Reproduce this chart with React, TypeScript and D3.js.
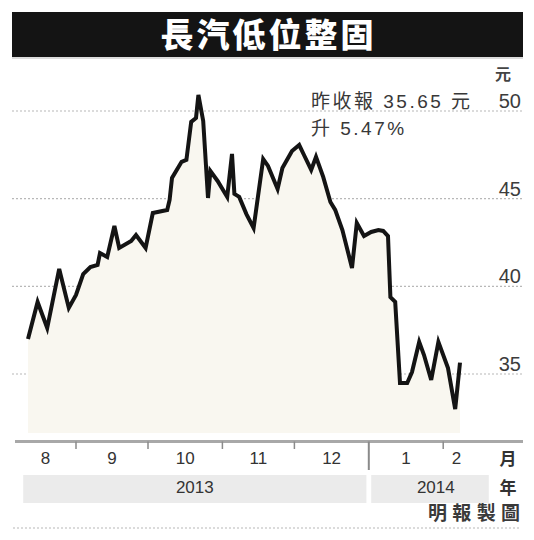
import React, { useEffect, useRef } from 'react';
import * as d3 from 'd3';

// 長汽 收市價 (元), 2013-08 ~ 2014-02
const dates = [
    '2013-08-12', '2013-08-16', '2013-08-20', '2013-08-25', '2013-08-29',
    '2013-09-01', '2013-09-04', '2013-09-07', '2013-09-10', '2013-09-11',
    '2013-09-14', '2013-09-17', '2013-09-19', '2013-09-24', '2013-09-26',
    '2013-09-30', '2013-10-03', '2013-10-09', '2013-10-10', '2013-10-11',
    '2013-10-15', '2013-10-17', '2013-10-19', '2013-10-21', '2013-10-22',
    '2013-10-24', '2013-10-26', '2013-10-27', '2013-10-30', '2013-11-03',
    '2013-11-05', '2013-11-06', '2013-11-08', '2013-11-11', '2013-11-14',
    '2013-11-18', '2013-11-20', '2013-11-24', '2013-11-26', '2013-11-30',
    '2013-12-03', '2013-12-05', '2013-12-08', '2013-12-10', '2013-12-13',
    '2013-12-16', '2013-12-18', '2013-12-21', '2013-12-25', '2013-12-27',
    '2013-12-30', '2014-01-02', '2014-01-05', '2014-01-07', '2014-01-09',
    '2014-01-10', '2014-01-12', '2014-01-14', '2014-01-17', '2014-01-19',
    '2014-01-22', '2014-01-24', '2014-01-27', '2014-01-30', '2014-02-03',
    '2014-02-06', '2014-02-08',
];
const prices = [
    37.0, 39.11, 37.62, 40.99, 38.77,
    39.51, 40.7, 41.1, 41.22, 41.9,
    41.67, 43.44, 42.19, 42.59, 42.93,
    42.19, 44.18, 44.35, 44.93, 46.18,
    47.1, 47.21, 49.38, 49.6, 50.92,
    49.43, 45.04, 46.58, 46.01, 45.1,
    47.55, 45.27, 45.1, 44.12, 43.33,
    47.26, 46.87, 45.55, 46.75, 47.72,
    48.06, 47.49, 46.64, 47.38, 46.24,
    44.81, 44.36, 43.21, 41.05, 43.61,
    42.87, 43.1, 43.21, 43.16, 42.87,
    39.39, 39.11, 34.49, 34.49, 35.11,
    36.83, 36.08, 34.66, 36.83, 35.34,
    33.0, 35.65,
];

const yTicks = [35, 40, 45, 50];
const monthStarts = ['2013-08-01', '2013-09-01', '2013-10-01', '2013-11-01', '2013-12-01', '2014-01-01', '2014-02-01', '2014-03-01'];
const monthLabels = ['8', '9', '10', '11', '12', '1', '2'];
const yearLabels = ['2013', '2014'];
const yearSpans = [['2013-08-10', '2013-12-31'], ['2014-01-02', '2014-02-20']];

const title = '長汽低位整固';
const noteLines = ['昨收報 35.65 元', '升 5.47%'];

const FONT = '"Liberation Sans", "Noto Sans CJK TC", sans-serif';
const CJK = '"Noto Sans CJK TC", "Liberation Sans", sans-serif';

const parse = (s: string) => new Date(s + 'T00:00:00Z');

const App = () => {
    const svgRef = useRef(null);

    useEffect(() => {
        const svg = d3.select(svgRef.current);
        svg.selectAll('*').remove();

        const width = 534;
        const plotLeft = 12, plotRight = 523;
        const axisY = 441.5;
        const floorY = 433;

        const x = d3.scaleUtc()
            .domain([parse('2013-08-01'), parse('2014-03-01')])
            .range([1.6, 510.4]);
        const y = d3.scaleLinear().domain([35, 50]).range([374, 111]);

        const data = dates.map((d, i) => ({ date: parse(d), value: prices[i] }));

        // 標題
        svg.append('rect')
            .attr('x', 12).attr('y', 12).attr('width', 511).attr('height', 45)
            .attr('fill', '#141414');
        svg.append('line')
            .attr('x1', 12).attr('x2', 523).attr('y1', 58).attr('y2', 58)
            .attr('stroke', '#d0d0d0').attr('stroke-width', 1.5);
        svg.append('text')
            .attr('x', width / 2).attr('y', 47)
            .attr('text-anchor', 'middle')
            .attr('font-family', CJK).attr('font-weight', 900).attr('font-size', 33)
            .attr('textLength', 213).attr('lengthAdjust', 'spacing')
            .attr('fill', '#fff')
            .text(title);

        // 網格線
        svg.append('g').selectAll('line').data(yTicks).join('line')
            .attr('x1', plotLeft).attr('x2', plotRight)
            .attr('y1', d => y(d)).attr('y2', d => y(d))
            .attr('stroke', '#b8b8b8').attr('stroke-width', 1.2)
            .attr('stroke-dasharray', '2,2');

        // 面積 + 線
        const area = d3.area<{ date: Date; value: number }>()
            .x(d => x(d.date)).y0(floorY).y1(d => y(d.value));
        svg.append('path').datum(data).attr('d', area).attr('fill', '#f9f7f0');

        const line = d3.line<{ date: Date; value: number }>()
            .x(d => x(d.date)).y(d => y(d.value));
        svg.append('path').datum(data).attr('d', line)
            .attr('fill', 'none').attr('stroke', '#141414')
            .attr('stroke-width', 4).attr('stroke-linejoin', 'miter');

        // y 軸標籤
        svg.append('g').selectAll('text').data(yTicks).join('text')
            .attr('x', 521).attr('y', d => y(d) - 3)
            .attr('text-anchor', 'end')
            .attr('font-family', FONT).attr('font-size', 20).attr('fill', '#3c3c3c')
            .text(d => d);
        svg.append('text')
            .attr('x', 503).attr('y', 80).attr('text-anchor', 'middle')
            .attr('font-family', CJK).attr('font-weight', 700).attr('font-size', 16).attr('fill', '#444')
            .text('元');

        // 註
        noteLines.forEach((t, i) => {
            svg.append('text')
                .attr('x', 311).attr('y', 108 + i * 27)
                .attr('font-family', FONT).attr('font-size', 19).attr('fill', '#383838')
                .attr('letter-spacing', 2.5)
                .text(t);
        });

        // x 軸
        svg.append('line')
            .attr('x1', 15).attr('x2', plotRight).attr('y1', axisY).attr('y2', axisY)
            .attr('stroke', '#a8a8a8').attr('stroke-width', 3);

        const starts = monthStarts.map(parse);
        svg.append('g').selectAll('line').data(starts.slice(1, 7)).join('line')
            .attr('x1', d => x(d)).attr('x2', d => x(d))
            .attr('y1', axisY)
            .attr('y2', d => (d.getUTCMonth() === 0 ? 470 : 449))
            .attr('stroke', '#8a8a8a')
            .attr('stroke-width', d => (d.getUTCMonth() === 0 ? 2 : 1.5));

        const lastX = x(parse('2014-02-12'));
        svg.append('g').selectAll('text').data(monthLabels).join('text')
            .attr('x', (d, i) => {
                const a = Math.max(15, x(starts[i]));
                const b = Math.min(lastX, x(starts[i + 1]));
                return (a + b) / 2;
            })
            .attr('y', 464)
            .attr('text-anchor', 'middle')
            .attr('font-family', FONT).attr('font-size', 17).attr('fill', '#333')
            .text(d => d);
        svg.append('text')
            .attr('x', 508).attr('y', 465).attr('text-anchor', 'middle')
            .attr('font-family', CJK).attr('font-weight', 700).attr('font-size', 17).attr('fill', '#333')
            .text('月');

        // 年份
        const years = svg.append('g');
        yearSpans.forEach((s, i) => {
            const a = x(parse(s[0]));
            const b = x(parse(s[1]));
            years.append('rect')
                .attr('x', a).attr('y', 475).attr('width', b - a).attr('height', 28)
                .attr('fill', '#ebebeb');
            years.append('text')
                .attr('x', i === 0 ? (a + b) / 2 : b - 53).attr('y', 493)
                .attr('text-anchor', 'middle')
                .attr('font-family', FONT).attr('font-size', 17).attr('fill', '#333')
                .text(yearLabels[i]);
        });
        svg.append('text')
            .attr('x', 508).attr('y', 494).attr('text-anchor', 'middle')
            .attr('font-family', CJK).attr('font-weight', 700).attr('font-size', 17).attr('fill', '#333')
            .text('年');

        svg.append('text')
            .attr('x', 428).attr('y', 520)
            .attr('font-family', CJK).attr('font-weight', 700).attr('font-size', 19).attr('fill', '#3a3a3a')
            .attr('textLength', 92).attr('lengthAdjust', 'spacing')
            .text('明報製圖');

        svg.append('line')
            .attr('x1', 13).attr('x2', 520).attr('y1', 528).attr('y2', 528)
            .attr('stroke', '#b8b8b8').attr('stroke-width', 1.2)
            .attr('stroke-dasharray', '2,2');
    }, []);

    return (
        <svg
            ref={svgRef}
            width={534}
            height={540}
            style={{ position: 'absolute', left: 0, top: 0, background: '#fff' }}
        />
    );
};

export default App;
